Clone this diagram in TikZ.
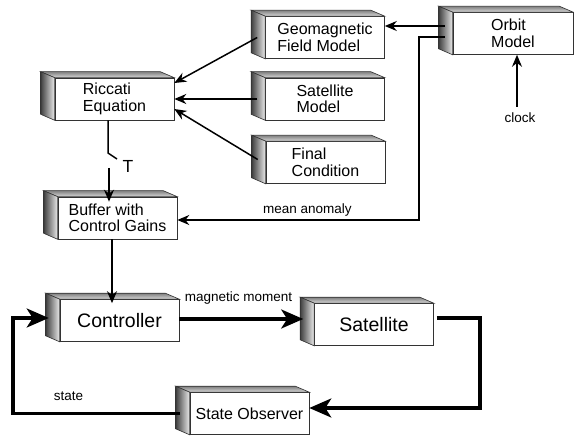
\documentclass[tikz,border=0pt]{standalone}
\usepackage{fontspec}
\setmainfont{Liberation Sans}
\usetikzlibrary{arrows.meta, calc}

\begin{document}
\begin{tikzpicture}[
            x=1pt, y=-1pt,
            >={Stealth[length=12pt,width=10pt]},
            block/.style={draw=black!80, line width=0.6pt, fill=white, minimum width=119pt, minimum height=42pt, inner sep=2pt, align=left, font=\fontsize{16}{16.5}\selectfont},
            big/.style={font=\fontsize{19.5}{21}\selectfont},
            lbl/.style={inner sep=0pt, font=\fontsize{13.5}{14}\selectfont},
            face/.style={draw=black!80, line width=0.6pt},
            conn/.style={line width=1.5pt, ->},
            thickconn/.style={line width=3.2pt, -{Stealth[length=22pt,width=19pt,inset=6pt]}},
        ]
            \def\depthx{14}
            \def\depthy{6}
            \useasboundingbox (0,0) rectangle (574,436);

            % Draw the model blocks
            \node[block] (geo) at (325,37.5) {Geomagnetic\\Field Model};
            \node[block, minimum width=120pt] (orbit) at (513,33.5) {Orbit\\Model};
            \node[block] (ric) at (114.5,99) {Riccati\\Equation};
            \node[block] (satm) at (325,99) {Satellite\\Model};
            \node[block] (final) at (325.5,162.5) {Final\\Condition};
            \node[block] (buf) at (117.5,218) {Buffer with\\Control Gains};

            % Draw the control loop blocks
            \node[block, big] (ctrl) at (119.5,320.5) {Controller};
            \node[block, big] (sat) at (374,324.5) {Satellite};
            \node[block] (obs) at (249.5,413.5) {State Observer};

            % Give every block its top and side face
            \foreach \nm in {geo,orbit,ric,satm,final,buf,ctrl,sat,obs} {
                \draw[face, top color=black!50, bottom color=black!15]
                    (\nm.north west) -- ++(-\depthx,-\depthy) -- ([shift={(-\depthx,-\depthy)}]\nm.north east) -- (\nm.north east) -- cycle;
                \draw[face, left color=black!75, right color=black!8]
                    (\nm.north west) -- ++(-\depthx,-\depthy) -- ([shift={(-\depthx,-\depthy)}]\nm.south west) -- (\nm.south west) -- cycle;
            }

            % Orbit model outputs
            \coordinate (o1) at ([shift={(-8,-7.5)}]orbit.west);
            \coordinate (o2) at ([shift={(-8,3.5)}]orbit.west);
            \coordinate (turn) at (419,220);
            \draw[conn] (o1) -- (o1 -| geo.east);
            \draw[conn] (o2) -| (turn) -- (turn -| buf.east);
            \node[lbl] (mean) at (307.5,210) {mean anomaly};

            \node[lbl] (clock) at (520,118) {clock};
            \coordinate (clk) at (517,107);
            \draw[conn] (clk) -- (clk |- orbit.south);

            % Inputs of the Riccati equation
            \draw[conn] ([xshift=-8pt]geo.west) -- ([yshift=16pt]ric.east);
            \draw[conn] ([xshift=-8pt]satm.west) -- (ric.east);
            \draw[conn] ([shift={(-8,-3)}]final.west) -- ([yshift=-10pt]ric.east);

            % Sampling switch
            \coordinate (sw1) at (108,153);
            \coordinate (sw2) at (117,159);
            \coordinate (sw3) at (109,168);
            \draw[line width=1.5pt] (ric.south -| sw1) -- (sw1) -- (sw2);
            \node[lbl, font=\fontsize{17.5}{18}\selectfont] (T) at (128,166) {T};
            \draw[conn, shorten >=-5pt] (sw3) -- (sw3 |- buf.north);

            \coordinate (b1) at ([xshift=-5.5pt]buf.south);
            \draw[conn, shorten >=-4pt] (b1) -- (b1 |- ctrl.north);

            % Feedback loop
            \coordinate (m1) at ([yshift=1.5pt]ctrl.east);
            \draw[thickconn, shorten >=11pt] (m1) -- (m1 -| sat.west);
            \node[lbl] (mag) at (238.5,298) {magnetic moment};

            \coordinate (s1) at ([shift={(3,-6.5)}]sat.east);
            \coordinate (ret) at (480,408);
            \draw[thickconn] (s1) -| (ret) -- (ret -| obs.east);

            \coordinate (f1) at ([xshift=-10pt]obs.west);
            \coordinate (fb) at (13,318);
            \draw[thickconn, shorten >=11pt] (f1) -| (fb) -- (fb -| ctrl.west);
            \node[lbl] (state) at (68.5,396) {state};
        \end{tikzpicture}
\end{document}
